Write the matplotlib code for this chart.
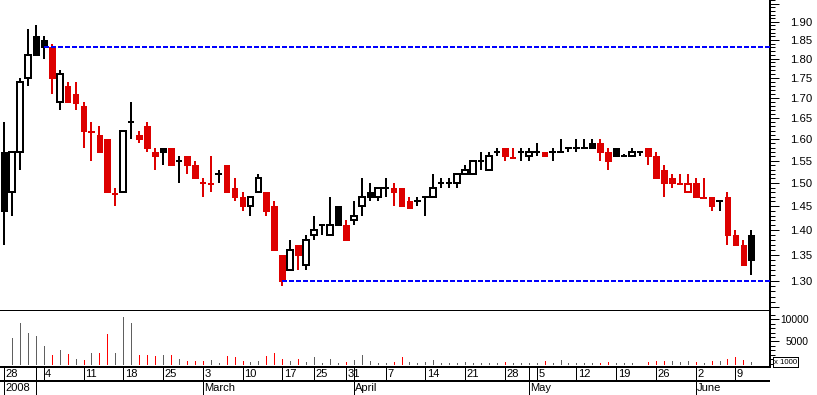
import matplotlib
matplotlib.use("Agg")
import matplotlib.pyplot as plt
import matplotlib.transforms as mtransforms
from matplotlib.patches import Rectangle
from matplotlib.ticker import FixedLocator, FuncFormatter, NullFormatter
import numpy as np

# daily prices, one entry per trading day (28 Jan 2008 .. 10 Jun 2008)
opens = [1.57, 1.48, 1.57, 1.75, 1.86, 1.85, 1.83, 1.69, 1.73, 1.71,
         1.68, 1.617, 1.61, 1.60, 1.477, 1.48, 1.64, 1.61, 1.63, 1.57,
         1.58, 1.58, 1.55, 1.56, 1.54, 1.50, 1.497, 1.52, 1.54, 1.49,
         1.47, 1.45, 1.48, 1.48, 1.45, 1.35, 1.32, 1.37, 1.33, 1.39,
         1.41, 1.39, 1.45, 1.41, 1.42, 1.45, 1.48, 1.47, 1.49, 1.49,
         1.49, 1.46, 1.46, 1.47, 1.47, 1.50, 1.50, 1.50, 1.52, 1.52,
         1.55, 1.53, 1.57, 1.58, 1.557, 1.57, 1.56, 1.57, 1.57, 1.57,
         1.57, 1.58, 1.58, 1.58, 1.59, 1.59, 1.57, 1.58, 1.56, 1.56,
         1.57, 1.58, 1.56, 1.53, 1.51, 1.498, 1.48, 1.50, 1.467, 1.47,
         1.46, 1.47, 1.39, 1.37, 1.39]
highs = [1.64, 1.57, 1.75, 1.88, 1.89, 1.86, 1.84, 1.77, 1.74, 1.74,
         1.69, 1.64, 1.63, 1.60, 1.49, 1.62, 1.69, 1.62, 1.64, 1.58,
         1.58, 1.58, 1.56, 1.56, 1.55, 1.51, 1.56, 1.53, 1.54, 1.51,
         1.48, 1.47, 1.52, 1.48, 1.46, 1.35, 1.38, 1.37, 1.39, 1.43,
         1.41, 1.47, 1.45, 1.42, 1.46, 1.51, 1.50, 1.49, 1.51, 1.50,
         1.49, 1.47, 1.47, 1.47, 1.52, 1.51, 1.51, 1.52, 1.54, 1.55,
         1.57, 1.57, 1.58, 1.58, 1.58, 1.58, 1.58, 1.59, 1.57, 1.58,
         1.60, 1.58, 1.60, 1.60, 1.60, 1.60, 1.58, 1.58, 1.566, 1.58,
         1.57, 1.58, 1.57, 1.54, 1.52, 1.52, 1.52, 1.51, 1.51, 1.47,
         1.46, 1.48, 1.40, 1.38, 1.40]
lows = [1.37, 1.43, 1.53, 1.73, 1.81, 1.80, 1.71, 1.67, 1.69, 1.67,
        1.58, 1.55, 1.57, 1.48, 1.45, 1.48, 1.60, 1.59, 1.57, 1.53,
        1.54, 1.54, 1.50, 1.52, 1.51, 1.47, 1.48, 1.50, 1.48, 1.46,
        1.44, 1.43, 1.48, 1.43, 1.36, 1.29, 1.32, 1.32, 1.32, 1.38,
        1.39, 1.39, 1.41, 1.38, 1.41, 1.43, 1.46, 1.46, 1.47, 1.45,
        1.45, 1.447, 1.45, 1.43, 1.47, 1.49, 1.49, 1.49, 1.52, 1.52,
        1.53, 1.53, 1.56, 1.55, 1.557, 1.55, 1.55, 1.56, 1.56, 1.55,
        1.57, 1.57, 1.57, 1.58, 1.58, 1.55, 1.53, 1.56, 1.56, 1.56,
        1.56, 1.54, 1.51, 1.47, 1.49, 1.498, 1.48, 1.47, 1.467, 1.44,
        1.44, 1.37, 1.37, 1.33, 1.31]
closes = [1.44, 1.57, 1.74, 1.81, 1.81, 1.83, 1.75, 1.76, 1.69, 1.687,
          1.62, 1.617, 1.57, 1.48, 1.477, 1.62, 1.64, 1.60, 1.58, 1.56,
          1.57, 1.54, 1.55, 1.54, 1.51, 1.50, 1.497, 1.52, 1.48, 1.47,
          1.45, 1.47, 1.51, 1.44, 1.36, 1.30, 1.36, 1.35, 1.38, 1.40,
          1.41, 1.41, 1.41, 1.38, 1.43, 1.47, 1.47, 1.49, 1.49, 1.48,
          1.45, 1.447, 1.46, 1.47, 1.49, 1.50, 1.50, 1.52, 1.53, 1.55,
          1.55, 1.56, 1.57, 1.56, 1.557, 1.57, 1.57, 1.57, 1.56, 1.57,
          1.57, 1.58, 1.58, 1.58, 1.58, 1.57, 1.55, 1.56, 1.56, 1.57,
          1.57, 1.56, 1.51, 1.50, 1.499, 1.498, 1.497, 1.47, 1.467, 1.45,
          1.46, 1.39, 1.37, 1.33, 1.34]
# volume in thousands
volumes = [0, 5700, 9020, 6800, 6130, 3910, 2000, 3180, 2150, 1190,
           890, 2520, 2520, 6590, 2520, 10520, 9020, 1930, 1930, 1780,
           1930, 1930, 1190, 740, 740, 620, 960, 220, 1780, 1620,
           600, 380, 670, 1780, 2380, 1180, 730, 1040, 380, 1620,
           290, 1180, 290, 380, 960, 2070, 730, 290, 290, 380,
           1620, 500, 220, 380, 890, 220, 220, 290, 380, 220,
           220, 290, 220, 510, 290, 290, 220, 220, 600, 290,
           820, 220, 290, 150, 220, 220, 510, 220, 220, 220,
           100, 440, 600, 670, 730, 510, 600, 510, 220, 730,
           670, 1110, 1490, 820, 440]

# date axis: trading-day index of each label
day_ticks = [0, 5, 10, 15, 20, 25, 30, 35, 39, 43, 48, 53, 58, 63, 67, 72, 77, 82, 87, 92]
day_labels = ["28", "4", "11", "18", "25", "3", "10", "17", "25", "31",
              "7", "14", "21", "28", "5", "12", "19", "26", "2", "9"]
month_ticks = [0, 4, 25, 44, 66, 87]
month_labels = ["2008", "", "March", "April", "May", "June"]

W, H = 817, 395
RED = "#dd0000"
FONT = "Liberation Sans"
PX = 0.72  # one pixel in points at 100 dpi

# crisp, bitmap-like strokes
plt.rcParams["lines.antialiased"] = False
plt.rcParams["patch.antialiased"] = False

o = np.array(opens)
h = np.array(highs)
l = np.array(lows)
c = np.array(closes)
v = np.array(volumes, dtype=float)
x = np.arange(len(c))
prev = np.r_[c[0], c[:-1]]
down = c < prev
vol_down = np.round(c, 2) < np.round(prev, 2)

fig = plt.figure(figsize=(W / 100, H / 100), dpi=100)
xl = (-0.503, 96.35)


def box(x0, y0, x1, y1):
    return [x0 / W, 1 - y1 / H, (x1 - x0) / W, (y1 - y0) / H]


ax = fig.add_axes(box(0, 0, 770, 311))
axv = fig.add_axes(box(0, 311, 770, 367))
axd = fig.add_axes(box(0, 367, 770, 395))

# candles
ax.set_yscale("log")
for i in x:
    col = RED if down[i] else "black"
    ax.vlines(i, l[i], h[i], color=col, lw=1.4, zorder=2)
    if c[i] > o[i]:
        ax.bar(i, c[i] - o[i], bottom=o[i], width=0.72, facecolor="white",
               edgecolor=col, lw=1.4, zorder=3)
    elif c[i] < o[i]:
        ax.bar(i, o[i] - c[i], bottom=c[i], width=0.72, facecolor=col,
               edgecolor=col, lw=PX, zorder=3)
    else:
        ax.hlines(c[i], i - 0.4, i + 0.4, color=col, lw=1.4, zorder=3)

# resistance / support from extreme closes
for j in (int(np.argmax(c)), int(np.argmin(c))):
    ax.plot([j, xl[1]], [c[j], c[j]], color="#0000ff", lw=1.4, dashes=(2.2, 1.4),
            zorder=4)

ax.set_xlim(*xl)
ax.set_ylim(1.2435, 1.9614)
ax.yaxis.set_major_locator(FixedLocator(np.arange(1.25, 1.96, 0.05)))
ax.yaxis.set_minor_locator(FixedLocator(np.arange(1.24, 1.97, 0.01)))
ax.yaxis.set_major_formatter(FuncFormatter(lambda val, pos: f"{val:.2f}" if 1.29 < val < 1.91 else ""))
ax.yaxis.set_minor_formatter(NullFormatter())
ax.tick_params(axis="y", which="both", left=False, labelleft=False, right=True,
               labelright=True, width=PX, direction="out")
ax.tick_params(axis="y", which="major", length=6.7, pad=8, labelsize=8.2)
ax.tick_params(axis="y", which="minor", length=3.5)
ax.set_xticks([])
for s in ("left", "top"):
    ax.spines[s].set_visible(False)
for s in ("right", "bottom"):
    ax.spines[s].set_linewidth(1.4)

# volume
vcol = np.where(vol_down, "#ff0000", "#606060")
axv.vlines(x[1:], 0, v[1:], colors=vcol[1:], lw=PX)
axv.set_xlim(*xl)
axv.set_ylim(-670, 11780)
axv.yaxis.set_major_locator(FixedLocator([5000, 10000]))
axv.yaxis.set_minor_locator(FixedLocator(np.arange(0, 12000, 1000)))
axv.yaxis.set_minor_formatter(NullFormatter())
axv.tick_params(axis="y", which="both", left=False, labelleft=False, right=True,
                labelright=True, width=PX, direction="out")
axv.tick_params(axis="y", which="major", length=6.7, pad=21, labelsize=7.4)
axv.tick_params(axis="y", which="minor", length=3.5)
for lab in axv.get_yticklabels():
    lab.set_horizontalalignment("right")
axv.set_xticks([])
for s in ("left", "top"):
    axv.spines[s].set_visible(False)
for s in ("right", "bottom"):
    axv.spines[s].set_linewidth(1.4)

# date rows
axd.set_xlim(*xl)
axd.set_ylim(0, 28)
axd.axis("off")
axd.axhline(14, color="black", lw=1.4)
axd.vlines(sorted(set(day_ticks) | set(month_ticks)), 14, 28, color="black", lw=PX)
axd.vlines(month_ticks, 0, 14, color="black", lw=PX)
shift = mtransforms.offset_copy(axd.transData, fig=fig, x=1.5, y=0, units="dots")
for t, s in zip(day_ticks, day_labels):
    axd.text(t, 21, s, transform=shift, ha="left", va="center", fontsize=8,
             family=FONT, zorder=0)
for t, s in zip(month_ticks, month_labels):
    axd.text(t, 7, s, transform=shift, ha="left", va="center", fontsize=8,
             family=FONT, zorder=0)

# "x 1000" unit box
fig.patches.append(Rectangle((772.5 / W, 1 - 367 / H), 25.5 / W, 10 / H, transform=fig.transFigure,
                             facecolor="white", edgecolor="black", lw=PX))
fig.text(774 / W, 1 - 362 / H, "x 1000", fontsize=5.6, family=FONT, ha="left", va="center")

for lab in ax.get_yticklabels() + axv.get_yticklabels():
    lab.set_family(FONT)

fig.savefig("out.png", dpi=100)
